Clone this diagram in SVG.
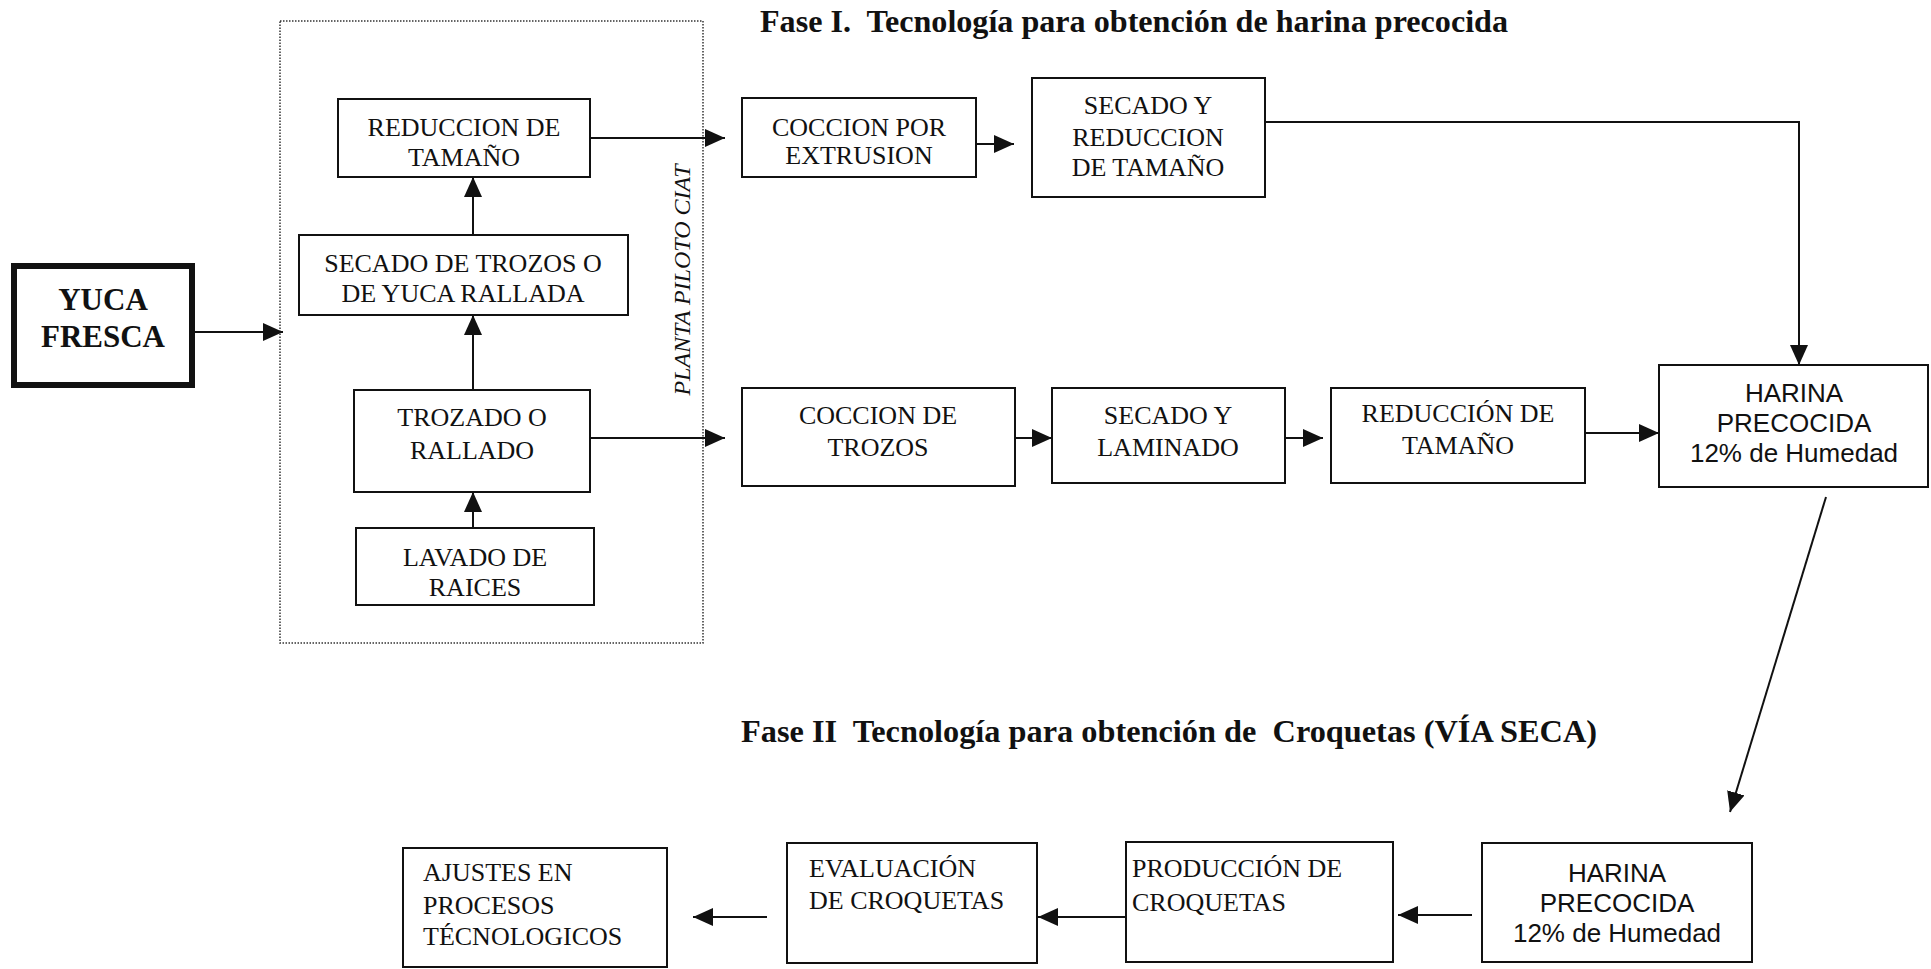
<svg xmlns="http://www.w3.org/2000/svg" width="1931" height="969" viewBox="0 0 1931 969">
<defs>
<style>
.bx{fill:#fff;stroke:#111;stroke-width:2}
.t{font-family:"Liberation Serif","Times New Roman",serif;font-size:26px;fill:#111;text-anchor:middle}
.tl{font-family:"Liberation Serif","Times New Roman",serif;font-size:26px;fill:#111;text-anchor:start}
.s{font-family:"Liberation Sans",Arial,sans-serif;font-size:26px;fill:#111;text-anchor:middle}
.ttl{font-family:"Liberation Serif","Times New Roman",serif;font-size:32px;font-weight:bold;fill:#111;white-space:pre}
.c{fill:none;stroke:#111;stroke-width:2}
</style>
<marker id="ah" markerUnits="userSpaceOnUse" markerWidth="20" markerHeight="18" refX="20" refY="9" orient="auto">
<path d="M0,0 L20,9 L0,18 z" fill="#111"/>
</marker>
</defs>
<rect width="1931" height="969" fill="#fff"/>

<g id="titles">
<text class="ttl" x="760" y="32" textLength="748" lengthAdjust="spacingAndGlyphs" xml:space="preserve">Fase I.  Tecnología para obtención de harina precocida</text>
<text class="ttl" x="741" y="742" textLength="856" lengthAdjust="spacingAndGlyphs" xml:space="preserve">Fase II  Tecnología para obtención de  Croquetas (VÍA SECA)</text>
</g>

<g id="planta-piloto">
<rect x="280" y="21" width="423" height="622" fill="none" stroke="#333" stroke-width="1.5" stroke-dasharray="1.5,1.5"/>
<text x="0" y="0" transform="translate(690,280) rotate(-90)" style="font-family:'Liberation Serif','Times New Roman',serif;font-size:24px;font-style:italic;fill:#111;text-anchor:middle">PLANTA PILOTO CIAT</text>
</g>

<g id="yuca-fresca">
<rect x="14" y="266" width="178" height="119" fill="#fff" stroke="#111" stroke-width="6"/>
<text class="t" x="103" y="310" style="font-size:31px;font-weight:bold">YUCA</text>
<text class="t" x="103" y="347" style="font-size:31px;font-weight:bold">FRESCA</text>
</g>

<g id="reduccion-tamano-1">
<rect class="bx" x="338" y="99" width="252" height="78"/>
<text class="t" x="464" y="136">REDUCCION DE</text>
<text class="t" x="464" y="166">TAMAÑO</text>
</g>

<g id="secado-trozos">
<rect class="bx" x="299" y="235" width="329" height="80"/>
<text class="t" x="463" y="272">SECADO DE TROZOS O</text>
<text class="t" x="463" y="302">DE YUCA RALLADA</text>
</g>

<g id="trozado-rallado">
<rect class="bx" x="354" y="390" width="236" height="102"/>
<text class="t" x="472" y="426">TROZADO O</text>
<text class="t" x="472" y="459">RALLADO</text>
</g>

<g id="lavado-raices">
<rect class="bx" x="356" y="528" width="238" height="77"/>
<text class="t" x="475" y="566">LAVADO DE</text>
<text class="t" x="475" y="596">RAICES</text>
</g>

<g id="coccion-extrusion">
<rect class="bx" x="742" y="98" width="234" height="79"/>
<text class="t" x="859" y="136">COCCION POR</text>
<text class="t" x="859" y="164">EXTRUSION</text>
</g>

<g id="secado-reduccion">
<rect class="bx" x="1032" y="78" width="233" height="119"/>
<text class="t" x="1148" y="114">SECADO Y</text>
<text class="t" x="1148" y="146">REDUCCION</text>
<text class="t" x="1148" y="176">DE TAMAÑO</text>
</g>

<g id="harina-precocida-1">
<rect class="bx" x="1659" y="365" width="269" height="122"/>
<text class="s" x="1794" y="402">HARINA</text>
<text class="s" x="1794" y="432">PRECOCIDA</text>
<text class="s" x="1794" y="462">12% de Humedad</text>
</g>

<g id="coccion-trozos">
<rect class="bx" x="742" y="388" width="273" height="98"/>
<text class="t" x="878" y="424">COCCION DE</text>
<text class="t" x="878" y="456">TROZOS</text>
</g>

<g id="secado-laminado">
<rect class="bx" x="1052" y="388" width="233" height="95"/>
<text class="t" x="1168" y="424">SECADO Y</text>
<text class="t" x="1168" y="456">LAMINADO</text>
</g>

<g id="reduccion-tamano-2">
<rect class="bx" x="1331" y="388" width="254" height="95"/>
<text class="t" x="1458" y="422">REDUCCIÓN DE</text>
<text class="t" x="1458" y="454">TAMAÑO</text>
</g>

<g id="harina-precocida-2">
<rect class="bx" x="1482" y="843" width="270" height="119"/>
<text class="s" x="1617" y="882">HARINA</text>
<text class="s" x="1617" y="912">PRECOCIDA</text>
<text class="s" x="1617" y="942">12% de Humedad</text>
</g>

<g id="produccion-croquetas">
<rect class="bx" x="1126" y="842" width="267" height="120"/>
<text class="tl" x="1132" y="877">PRODUCCIÓN DE</text>
<text class="tl" x="1132" y="911">CROQUETAS</text>
</g>

<g id="evaluacion-croquetas">
<rect class="bx" x="787" y="843" width="250" height="120"/>
<text class="tl" x="809" y="877">EVALUACIÓN</text>
<text class="tl" x="809" y="909">DE CROQUETAS</text>
</g>

<g id="ajustes-procesos">
<rect class="bx" x="403" y="848" width="264" height="119"/>
<text class="tl" x="423" y="881">AJUSTES EN</text>
<text class="tl" x="423" y="914">PROCESOS</text>
<text class="tl" x="423" y="945">TÉCNOLOGICOS</text>
</g>

<g id="connectors">
<path class="c" d="M195,332 H283" marker-end="url(#ah)"/>
<path class="c" d="M473,235 V177" marker-end="url(#ah)"/>
<path class="c" d="M473,390 V315" marker-end="url(#ah)"/>
<path class="c" d="M473,528 V492" marker-end="url(#ah)"/>
<path class="c" d="M590,138 H725" marker-end="url(#ah)"/>
<path class="c" d="M976,144 H1014" marker-end="url(#ah)"/>
<path class="c" d="M1265,122 H1799 V365" marker-end="url(#ah)"/>
<path class="c" d="M590,438 H725" marker-end="url(#ah)"/>
<path class="c" d="M1015,438 H1052" marker-end="url(#ah)"/>
<path class="c" d="M1285,438 H1323" marker-end="url(#ah)"/>
<path class="c" d="M1585,433 H1659" marker-end="url(#ah)"/>
<path class="c" d="M1826,497 L1730,812" marker-end="url(#ah)"/>
<path class="c" d="M1472,915 H1398" marker-end="url(#ah)"/>
<path class="c" d="M1126,917 H1038" marker-end="url(#ah)"/>
<path class="c" d="M767,917 H693" marker-end="url(#ah)"/>
</g>
</svg>
